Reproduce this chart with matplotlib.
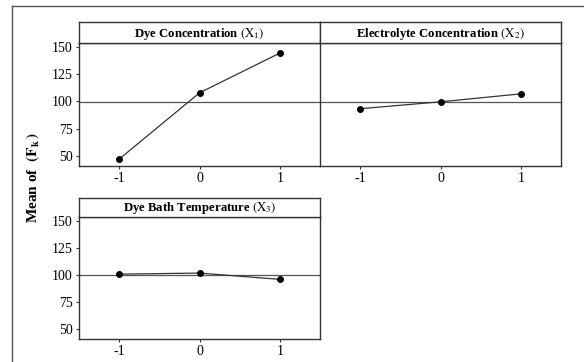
import matplotlib
matplotlib.use('Agg')
from matplotlib import pyplot as plt
from matplotlib.lines import Line2D

plt.rcParams['font.family'] = ['Liberation Serif', 'DejaVu Serif']
plt.rcParams['mathtext.fontset'] = 'stix'

levels = [-1, 0, 1]
titles = [r'Dye Concentration $(\mathrm{X}_1)$',
          r'Electrolyte Concentration $(\mathrm{X}_2)$',
          r'Dye Bath Temperature $(\mathrm{X}_3)$']
means = [[47.3, 107.9, 144.3],
         [93.4, 99.7, 107.0],
         [100.8, 101.8, 96.0]]
grand_mean = 99.8
yticks = [50, 75, 100, 125, 150]

W, H = 584, 362
fig = plt.figure(figsize=(W / 100, H / 100), dpi=100)
edge = '#333333'

# (left, right, strip top, strip bottom, plot bottom) in pixels
boxes = [(79, 320, 22, 43, 166),
         (320, 561, 22, 43, 166),
         (79, 320, 198, 217, 339)]

for i, (l, r, st, sb, pb) in enumerate(boxes):
    ax = fig.add_axes([l / W, 1 - pb / H, (r - l) / W, (pb - sb) / H])
    sax = fig.add_axes([l / W, 1 - sb / H, (r - l) / W, (sb - st) / H])
    sax.set_xticks([])
    sax.set_yticks([])
    sax.text(0.5, 0.45, titles[i], ha='center', va='center', fontsize=9.2,
             fontweight='bold', transform=sax.transAxes)
    for s in sax.spines.values():
        s.set_color(edge)
        s.set_linewidth(1.0)

    ax.axhline(grand_mean, color='#555555', linewidth=0.9, zorder=1)
    ax.plot(levels, means[i], color='#333333', linewidth=0.9, marker='o',
            markersize=4, markerfacecolor='black', markeredgecolor='black', zorder=2)
    ax.set_xlim(-1.5, 1.5)
    ax.set_ylim(41, 153.5)
    ax.set_xticks(levels)
    ax.set_xticklabels(['-1', '0', '1'], fontsize=10)
    ax.set_yticks(yticks)
    if i == 1:
        ax.tick_params(axis='y', left=False, labelleft=False)
    else:
        ax.set_yticklabels([str(v) for v in yticks], fontsize=10)
    ax.tick_params(direction='out', length=2.5, width=0.8, color=edge, pad=2)
    for s in ax.spines.values():
        s.set_color(edge)
        s.set_linewidth(1.0)
    if i == 0:
        ax.spines['right'].set_visible(False)

fig.text(33 / W, 1 - 178 / H, r'Mean of  $\mathbf{(F_k\,)}$', rotation=90,
         ha='center', va='center', fontsize=11, fontweight='bold')

# outer frame
fig.add_artist(Line2D([12 / W, 12 / W], [0, 1 - 6 / H], transform=fig.transFigure,
                      color='#555555', linewidth=1.0))
fig.add_artist(Line2D([12 / W, 1], [1 - 6 / H, 1 - 6 / H], transform=fig.transFigure,
                      color='#555555', linewidth=1.0))

fig.savefig('out.png', dpi=100)
